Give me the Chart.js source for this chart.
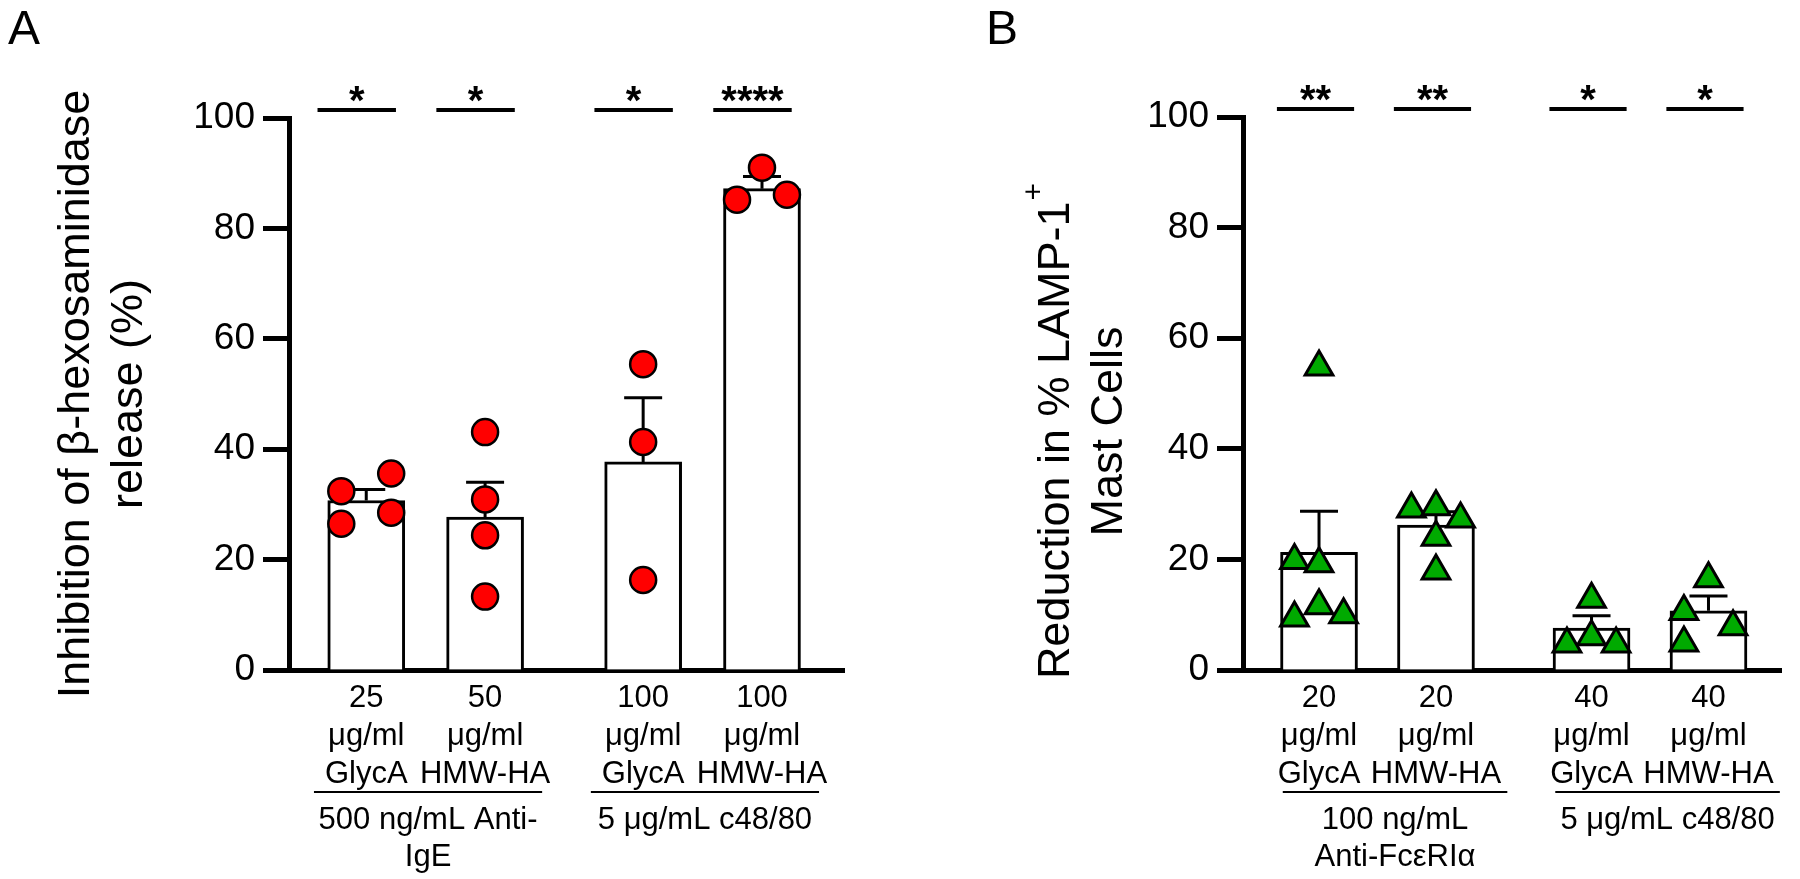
<!DOCTYPE html>
<html>
<head>
<meta charset="utf-8">
<title>Mast cell degranulation</title>
<script src="https://cdn.jsdelivr.net/npm/chart.js@4.4.1/dist/chart.umd.min.js"></script>
<style>
  html, body { margin: 0; padding: 0; background: #fff; }
  #wrap { position: relative; width: 1800px; height: 879px; }
  canvas { position: absolute; top: 0; }
  #panelA { left: 0; }
  #panelB { left: 900px; }
</style>
</head>
<body>
<div id="wrap">
  <canvas id="panelA" width="900" height="879"></canvas>
  <canvas id="panelB" width="900" height="879"></canvas>
</div>
<script>
// ---- Panel A: beta-hexosaminidase release ----
const aTickLabels = [
    ['25', 'μg/ml', 'GlycA'],
    ['50', 'μg/ml', 'HMW-HA'],
    ['100', 'μg/ml', 'GlycA'],
    ['100', 'μg/ml', 'HMW-HA']
];
const aMeans = [30.7, 27.7, 37.7, 87.2];
const aSem = [2.0, 6.3, 11.6, 2.2];
const aPoints = [
    [32.4, 35.6, 28.5, 26.5],
    [43.1, 30.9, 24.4, 13.3],
    [55.4, 41.3, 16.3],
    [91.0, 85.2, 86.1]
];
// which side of the bar each point sits on (-1 left, 0 middle, 1 right)
const aJitter = [
    [-1, 1, 1, -1],
    [0, 0, 0, 0],
    [0, 0, 0],
    [0, -1, 1]
];
const aStars = ['*', '*', '*', '****'];
const aGroupLabels = [['500 ng/mL Anti-', 'IgE'], ['5 μg/mL c48/80']];
const aTitle = ['Inhibition of β-hexosaminidase', 'release (%)'];

// ---- Panel B: LAMP-1+ mast cells ----
const bTickLabels = [
    ['20', 'μg/ml', 'GlycA'],
    ['20', 'μg/ml', 'HMW-HA'],
    ['40', 'μg/ml', 'GlycA'],
    ['40', 'μg/ml', 'HMW-HA']
];
const bMeans = [21.3, 26.2, 7.6, 10.7];
const bSem = [7.4, 2.4, 2.2, 2.7];
const bPoints = [
    [54.8, 19.8, 19.2, 9.4, 11.6, 10.0],
    [29.1, 29.5, 27.3, 24.0, 17.9],
    [12.8, 6.0, 4.7, 4.7],
    [16.5, 10.6, 4.9, 7.8]
];
const bJitter = [
    [0, -1, 0, -1, 0, 1],
    [-1, 0, 1, 0, 0],
    [0, 0, -1, 1],
    [0, -1, -1, 1]
];
const bStars = ['**', '**', '*', '*'];
const bGroupLabels = [['100 ng/mL', 'Anti-FcεRIα'], ['5 μg/mL c48/80']];
const bTitle = ['Reduction in % LAMP-1', 'Mast Cells'];
const bTitleSup = '+';

const groupMembers = [[0, 1], [2, 3]];
const yTicks = { min: 0, max: 100, step: 20 };

const FONT = "'Liberation Sans', Arial, Helvetica, sans-serif";
const groupGap = 0.33;     // extra room between the two stimulus groups
const jitterStep = 0.21;   // horizontal spread of the dots
const xMin = -0.65;

function slotPositions(n) {
    const xs = new Array(n);
    groupMembers.forEach((members, g) => {
        members.forEach(i => { xs[i] = i + g * groupGap; });
    });
    return xs;
}

// rotated two-line axis title, optional superscript on the first line
function drawYTitle(ctx, p, centerY) {
    ctx.save();
    ctx.translate(p.titleX, centerY);
    ctx.rotate(-Math.PI / 2);
    ctx.fillStyle = '#000';
    ctx.textBaseline = 'alphabetic';
    ctx.font = '45px ' + FONT;
    p.title.forEach((line, k) => {
        const yOff = k * p.titleGap;
        if (k === 0 && p.titleSup) {
            const w = ctx.measureText(line).width;
            ctx.font = '30px ' + FONT;
            const ws = ctx.measureText(p.titleSup).width;
            ctx.font = '45px ' + FONT;
            ctx.textAlign = 'left';
            ctx.fillText(line, -(w + ws) / 2, yOff);
            ctx.font = '30px ' + FONT;
            ctx.fillText(p.titleSup, -(w + ws) / 2 + w + 1, yOff - 26);
            ctx.font = '45px ' + FONT;
        } else {
            ctx.textAlign = 'center';
            ctx.fillText(line, 0, yOff);
        }
    });
    ctx.restore();
}

function makePanel(id, p) {
    const xs = slotPositions(p.means.length);
    const bars = p.means.map((m, i) => ({ x: xs[i], y: m }));
    const dots = [];
    p.points.forEach((vals, i) => {
        vals.forEach((v, j) => dots.push({ x: xs[i] + p.jitter[i][j] * jitterStep, y: v }));
    });

    const extras = {
        id: 'extras',
        // SEM bars (upper half only) between the bars and the dots
        afterDatasetDraw(chart, args) {
            if (args.index !== 0) return;
            const ctx = chart.ctx;
            const y = chart.scales.y;
            const meta = chart.getDatasetMeta(0);
            ctx.save();
            ctx.strokeStyle = '#000';
            ctx.lineWidth = 3;
            meta.data.forEach((bar, i) => {
                const top = y.getPixelForValue(p.means[i] + p.sem[i]);
                ctx.beginPath();
                ctx.moveTo(bar.x, bar.y);
                ctx.lineTo(bar.x, top);
                ctx.moveTo(bar.x - 19, top);
                ctx.lineTo(bar.x + 19, top);
                ctx.stroke();
            });
            ctx.restore();
        },
        afterDraw(chart) {
            const ctx = chart.ctx;
            const x = chart.scales.x;
            const y = chart.scales.y;
            ctx.save();
            ctx.fillStyle = '#000';
            ctx.strokeStyle = '#000';

            // significance bars with stars
            const sigY = y.getPixelForValue(yTicks.max) - 8;
            p.stars.forEach((s, i) => {
                const x1 = x.getPixelForValue(xs[i] + p.sigShift - 0.33);
                const x2 = x.getPixelForValue(xs[i] + p.sigShift + 0.33);
                ctx.lineWidth = 4;
                ctx.beginPath();
                ctx.moveTo(x1, sigY);
                ctx.lineTo(x2, sigY);
                ctx.stroke();
                ctx.font = 'bold 40px ' + FONT;
                ctx.textAlign = 'center';
                ctx.textBaseline = 'alphabetic';
                ctx.fillText(s, (x1 + x2) / 2, sigY + 4);
            });

            // treatment group underline and caption
            const lineY = y.getPixelForValue(yTicks.min) + 122;
            groupMembers.forEach((members, g) => {
                const first = members[0];
                const last = members[members.length - 1];
                const x1 = x.getPixelForValue(xs[first] - 0.46 + p.groupShift);
                const x2 = x.getPixelForValue(xs[last] + 0.46 + p.groupShift);
                ctx.lineWidth = 2;
                ctx.beginPath();
                ctx.moveTo(x1, lineY);
                ctx.lineTo(x2, lineY);
                ctx.stroke();
                ctx.font = '31px ' + FONT;
                ctx.textAlign = 'center';
                ctx.textBaseline = 'alphabetic';
                p.groupLabels[g].forEach((line, k) => {
                    ctx.fillText(line, (x1 + x2) / 2, lineY + 37 + k * 37);
                });
            });

            // axis title, centred on the plot with a per-panel offset
            drawYTitle(ctx, p, (chart.chartArea.top + chart.chartArea.bottom) / 2 + p.titleShift);

            // panel letter
            ctx.font = '48px ' + FONT;
            ctx.textAlign = 'left';
            ctx.textBaseline = 'alphabetic';
            ctx.fillText(p.letter, p.letterX, 44);
            ctx.restore();
        }
    };

    return new Chart(document.getElementById(id), {
        type: 'bar',
        data: {
            datasets: [
                {
                    type: 'bar',
                    data: bars,
                    backgroundColor: '#fff',
                    borderColor: '#000',
                    borderWidth: 3,
                    barThickness: 77,
                    order: 1
                },
                {
                    type: 'scatter',
                    data: dots,
                    pointStyle: p.marker,
                    pointRadius: p.markerRadius,
                    pointBackgroundColor: p.color,
                    pointBorderColor: '#000',
                    pointBorderWidth: p.markerBorder,
                    clip: false,
                    order: 0
                }
            ]
        },
        options: {
            responsive: false,
            animation: false,
            devicePixelRatio: 1,
            layout: { padding: { top: p.top, right: p.right, bottom: 0, left: 0 } },
            plugins: { legend: { display: false }, tooltip: { enabled: false } },
            scales: {
                x: {
                    type: 'linear',
                    min: xMin,
                    max: p.xMax,
                    offset: false,
                    z: 1,
                    grid: { display: false, offset: false },
                    border: { display: true, color: '#000', width: 5 },
                    afterBuildTicks: s => { s.ticks = xs.map(v => ({ value: v })); },
                    afterFit: s => { s.height = 209; },
                    ticks: {
                        autoSkip: false,
                        maxRotation: 0,
                        padding: 1,
                        color: '#000',
                        font: { family: FONT, size: 31, lineHeight: '38px' },
                        callback: (v, i) => p.tickLabels[i]
                    }
                },
                y: {
                    min: yTicks.min,
                    max: yTicks.max,
                    z: 1,
                    ticks: { stepSize: yTicks.step, padding: 8, color: '#000', font: { family: FONT, size: 37 } },
                    grid: { drawOnChartArea: false, drawTicks: true, tickLength: 26, tickWidth: 5, tickColor: '#000' },
                    border: { display: true, color: '#000', width: 5 },
                    afterFit: s => { s.width = p.left; }
                }
            }
        },
        plugins: [extras]
    });
}

makePanel('panelA', {
    tickLabels: aTickLabels, means: aMeans, sem: aSem, points: aPoints, jitter: aJitter,
    stars: aStars, groupLabels: aGroupLabels, title: aTitle, titleSup: null,
    marker: 'circle', markerRadius: 13, markerBorder: 2.5, color: '#FF0000',
    left: 289, right: 56, top: 118, xMax: 4.02,
    titleX: 89, titleGap: 53, titleShift: 0,
    sigShift: -0.08, groupShift: 0.02,
    letter: 'A', letterX: 8
});

makePanel('panelB', {
    tickLabels: bTickLabels, means: bMeans, sem: bSem, points: bPoints, jitter: bJitter,
    stars: bStars, groupLabels: bGroupLabels, title: bTitle, titleSup: bTitleSup,
    marker: 'triangle', markerRadius: 16, markerBorder: 3, color: '#00AA00',
    left: 343, right: 9, top: 117, xMax: 3.95,
    titleX: 169, titleGap: 53, titleShift: 38,
    sigShift: -0.03, groupShift: 0.15,
    letter: 'B', letterX: 86
});
</script>
</body>
</html>
